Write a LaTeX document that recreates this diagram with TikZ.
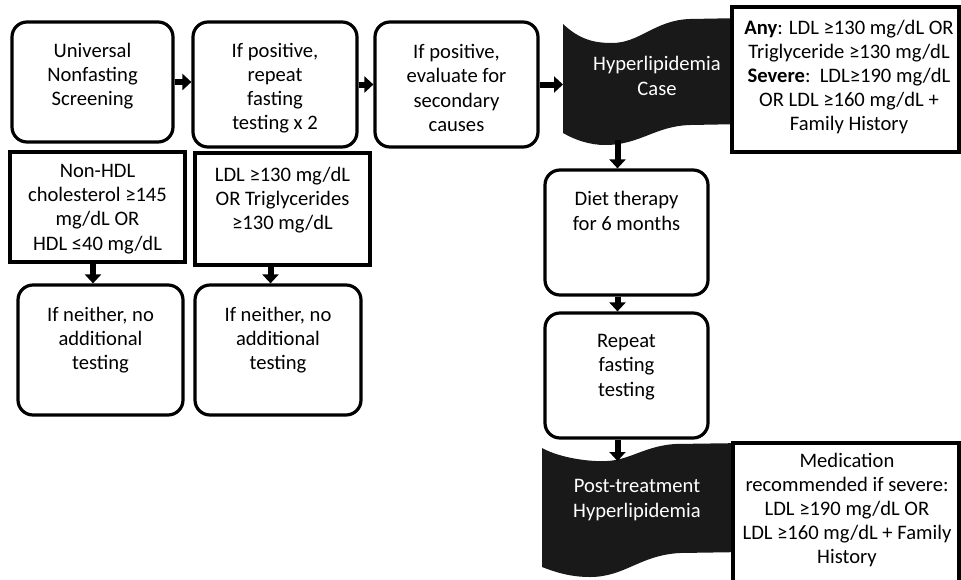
\documentclass[tikz,border=0pt]{standalone}
\usepackage{fontspec}
\setmainfont{Carlito}
\usetikzlibrary{arrows.meta}
\tikzset{
  rbox/.style={draw=black, line width=3.2pt, rounded corners=15pt, fill=white, inner sep=0pt},
  sbox/.style={draw=black, line width=3.2pt, fill=white, inner sep=0pt},
  txt/.style={align=center, font=\fontsize{20.6}{24.2}\selectfont, inner sep=0pt},
  wtxt/.style={txt, text=white},
  arr/.style={line width=6pt, -{Triangle[width=16pt,length=9pt]}},
  banner/.style={fill=black!90, draw=none}
}
\begin{document}
\begin{tikzpicture}[x=1pt,y=-1pt]
\clip (0,0) rectangle (961,579);
\fill[white] (0,0) rectangle (961,579);
% banners
\fill[banner] (563,24) .. controls (580,40) and (595,43) .. (612,43)
  .. controls (640,43) and (655,20) .. (690,19) -- (745,18) -- (745,124) -- (690,125)
  .. controls (655,126) and (640,145) .. (605,145)
  .. controls (590,145) and (575,140) .. (563,133) -- cycle;
\fill[banner] (542,448) .. controls (560,458) and (590,462) .. (607,461)
  .. controls (630,460) and (645,446) .. (675,444) -- (745,443) -- (745,552) -- (680,553)
  .. controls (640,555) and (625,577) .. (590,577)
  .. controls (570,577) and (555,572) .. (542,567) -- cycle;
\coordinate (caseL) at (563,84.5);
\coordinate (caseB) at (617.5,140);
\coordinate (postT) at (617.5,461);
% boxes
\node[rbox, minimum width=161pt, minimum height=120pt] (b1) at (92.5,82) {};
\node[rbox, minimum width=164pt, minimum height=125pt] (b2) at (275,84.5) {};
\node[rbox, minimum width=163pt, minimum height=125pt] (b3) at (456.5,84.5) {};
\node[sbox, minimum width=175pt, minimum height=110pt] (nh) at (97.5,207) {};
\node[sbox, minimum width=175pt, minimum height=112pt] (ldl) at (282.5,209) {};
\node[rbox, minimum width=165pt, minimum height=130pt] (n1) at (100.5,350) {};
\node[rbox, minimum width=166pt, minimum height=130pt] (n2) at (278,350) {};
\node[rbox, minimum width=163pt, minimum height=125pt] (diet) at (626.5,232.5) {};
\node[rbox, minimum width=163pt, minimum height=125pt] (rep) at (626.5,375.5) {};
\node[sbox, minimum width=227pt, minimum height=145pt] (any) at (845.5,79.5) {};
\node[sbox, minimum width=226pt, minimum height=180pt] (med) at (846,533) {};
% texts
\node[txt] (t1) at (92.5,76) {Universal\\Nonfasting\\Screening};
\node[txt] (t2) at (275,88) {If positive,\\repeat\\fasting\\testing x 2};
\node[txt] (t3) at (456.5,88) {If positive,\\evaluate for\\secondary\\causes};
\node[txt] (tnh) at (97.5,209) {Non-HDL\\cholesterol ≥145\\mg/dL OR\\HDL ≤40 mg/dL};
\node[txt] (tldl) at (282.5,200) {LDL ≥130 mg/dL\\OR Triglycerides\\≥130 mg/dL};
\node[txt] (tn1) at (100.5,340) {If neither, no\\additional\\testing};
\node[txt] (tn2) at (278,340) {If neither, no\\additional\\testing};
\node[txt] (tdiet) at (626.5,211) {Diet therapy\\for 6 months};
\node[txt] (trep) at (626.5,367) {Repeat\\fasting\\testing};
\node[wtxt] (tcase) at (657,76) {Hyperlipidemia\\Case};
\node[wtxt] (tpost) at (637,500) {Post-treatment\\Hyperlipidemia};
\node[txt] (tany) at (849,77) {\textbf{Any}: LDL ≥130 mg/dL OR\\Triglyceride ≥130 mg/dL\\\textbf{Severe}:\ \ LDL≥190 mg/dL\\OR LDL ≥160 mg/dL +\\Family History};
\node[txt] (tmed) at (847,510) {Medication\\recommended if severe:\\LDL ≥190 mg/dL OR\\LDL ≥160 mg/dL + Family\\History};
% arrows
\draw[arr] (b1.east) -- (b1.east -| b2.west);
\draw[arr] (b2.east) -- (b3.west);
\draw[arr] (b3.east) -- (caseL);
\draw[arr] ([xshift=-4.5pt]nh.south) -- ([xshift=-4.5pt]nh.south |- n1.north);
\draw[arr] ([xshift=-12pt]ldl.south) -- ([xshift=-12pt]ldl.south |- n2.north);
\draw[arr] (caseB) -- (caseB |- diet.north);
\draw[arr] ([xshift=-9pt]diet.south) -- ([xshift=-9pt]rep.north);
\draw[arr] ([xshift=-9pt]rep.south) -- (postT);
\end{tikzpicture}
\end{document}
